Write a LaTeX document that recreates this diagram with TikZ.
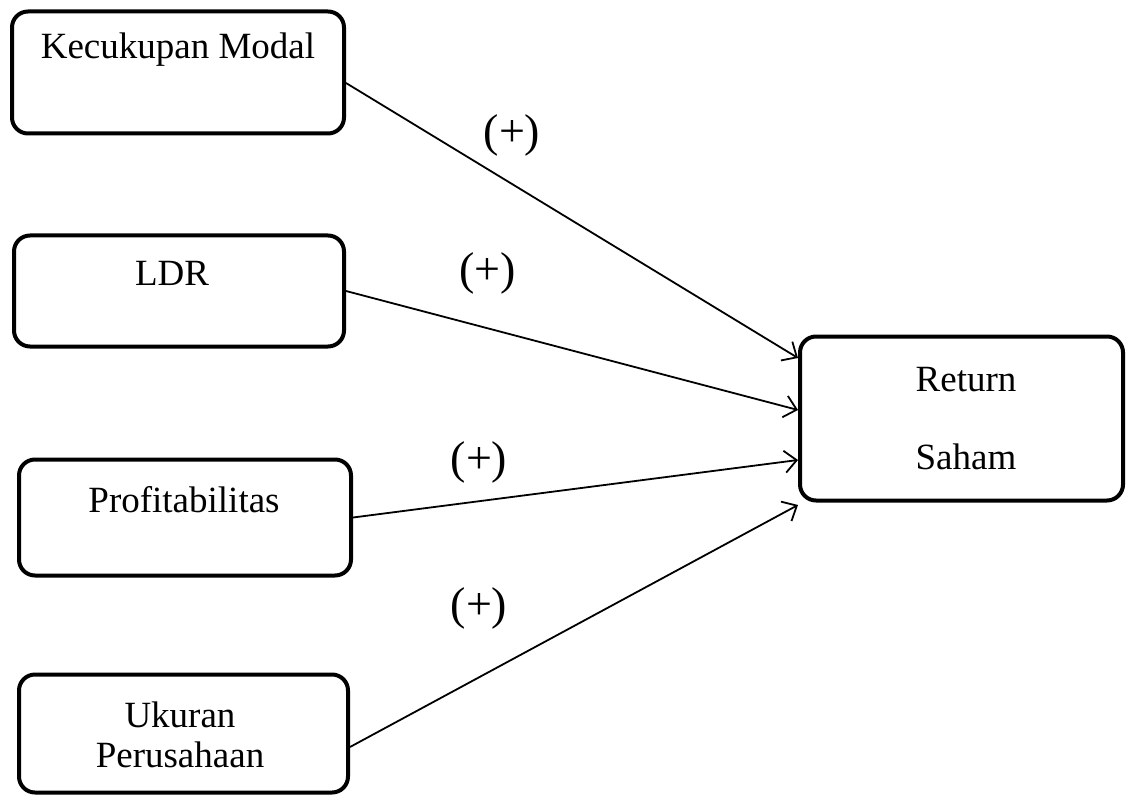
\documentclass[tikz,border=0pt]{standalone}
\usepackage{fontspec}
\setmainfont{Liberation Serif}
\usetikzlibrary{arrows.meta}
\begin{document}
\begin{tikzpicture}[x=0.5pt,y=-0.5pt,
  box/.style={draw, line width=2pt, rounded corners=8pt, minimum width=#1, inner sep=0pt},
  lbl/.style={font=\fontsize{18.5}{22}\selectfont, inner sep=0pt, anchor=center},
  sign/.style={font=\fontsize{23}{27}\selectfont, inner sep=0pt, anchor=center},
  arr/.style={line width=0.9pt, -{Straight Barb[length=6pt,width=11pt,line width=0.9pt]}}]
\useasboundingbox (0,0) rectangle (1127,796);
% boxes
\node[box=166pt, minimum height=61pt] (km) at (178,72.5) {};
\node[box=165pt, minimum height=55.5pt] (ldr) at (179,291) {};
\node[box=166pt, minimum height=58pt] (pr) at (185,517.5) {};
\node[box=164.5pt, minimum height=59pt] (up) at (183.5,733.5) {};
\node[box=161.5pt, minimum height=82pt] (rs) at (961.5,418.5) {};
% texts
\node[lbl] (tkm) at (178,50) {Kecukupan Modal};
\node[lbl] (tldr) at (172,273) {LDR};
\node[lbl] (tpr) at (184,500) {Profitabilitas};
\node[lbl] (tup1) at (180,715) {Ukuran};
\node[lbl] (tup2) at (180,755) {Perusahaan};
\node[lbl] (trs1) at (966,380) {Return};
\node[lbl] (trs2) at (966,457) {Saham};
% arrows
\draw[arr] ([yshift=-5.25pt]km.east) -- ([yshift=30.25pt]rs.west);
\draw[arr] ([yshift=0pt]ldr.east) -- ([yshift=4.25pt]rs.west);
\draw[arr] ([yshift=0pt]pr.east) -- ([yshift=-20.75pt]rs.west);
\draw[arr] ([yshift=-6.75pt]up.east) -- ([yshift=-43.25pt]rs.west);
% signs
\node[sign] (s1) at (512,135) {(+)};
\node[sign] (s2) at (487.5,273) {(+)};
\node[sign] (s3) at (479,462) {(+)};
\node[sign] (s4) at (479,608) {(+)};
\end{tikzpicture}
\end{document}
